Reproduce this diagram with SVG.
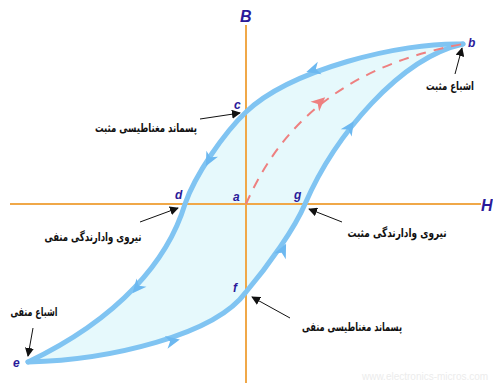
<svg xmlns="http://www.w3.org/2000/svg" width="493" height="383" viewBox="0 0 493 383">
<style>
.axis{stroke:#f0a848;stroke-width:2;fill:none}
.loop{stroke:#80c4f2;stroke-width:5;fill:none;stroke-linecap:round}
.fill{fill:#e6f9fc;stroke:none}
.bah{fill:#6cb8f0}
.dash{stroke:#ee8080;stroke-width:2;fill:none;stroke-dasharray:10 8}
.rah{fill:#ee8080}
.lbl{font-family:"Liberation Sans",Arial,sans-serif;font-weight:bold;font-style:italic;font-size:12px;fill:#2a1a9a}
.ax{font-family:"Liberation Sans",Arial,sans-serif;font-weight:bold;font-style:italic;font-size:16px;fill:#2a1a9a}
.fa{font-family:"DejaVu Sans",sans-serif;font-size:12px;font-weight:bold;fill:#111;direction:rtl;text-anchor:middle}
.ann{stroke:#111;stroke-width:1;fill:none;marker-end:url(#ah)}
.wm{font-family:"Liberation Sans",Arial,sans-serif;font-size:10px;fill:#ececec}
</style>
<defs>
<marker id="ah" viewBox="0 0 10 10" refX="9" refY="5" markerWidth="9" markerHeight="9" markerUnits="userSpaceOnUse" orient="auto">
<path d="M0,0 L10,5 L0,10 z" fill="#111"/>
</marker>
<polygon id="bh" points="7,0 -7,-6.5 -3,0 -7,6.5"/>
</defs>
<g id="loop-fill">
<path class="fill" d="M463,44 C400,42 290,70 246,112 C224,133 195,175 185,204 C168,260 120,318 28,362 C110,360 215,335 246,292 C268,266 295,228 305,204 C335,135 400,58 463,44 Z"/>
</g>
<g id="axes">
<line class="axis" x1="246" y1="25" x2="246" y2="383"/>
<line class="axis" x1="10" y1="204" x2="481" y2="204"/>
<text class="ax" x="240" y="22">B</text>
<text class="ax" x="481" y="211">H</text>
</g>
<g id="connectors">
<path id="upper-branch" class="loop" d="M463,44 C400,42 290,70 246,112 C224,133 195,175 185,204 C168,260 120,318 28,362"/>
<path id="lower-branch" class="loop" d="M28,362 C110,360 215,335 246,292 C268,266 295,228 305,204 C335,135 400,58 463,44"/>
<path id="initial-curve" class="dash" d="M246,204 C270,150 320,70 463,44"/>
<use href="#bh" class="bah" transform="translate(313,70) rotate(163)"/>
<use href="#bh" class="bah" transform="translate(209,160) rotate(117)"/>
<use href="#bh" class="bah" transform="translate(137,288) rotate(130)"/>
<use href="#bh" class="bah" transform="translate(173,341) rotate(-12)"/>
<use href="#bh" class="bah" transform="translate(283,250) rotate(-64)"/>
<use href="#bh" class="bah" transform="translate(350,127) rotate(-57)"/>
<use href="#bh" class="rah" transform="translate(320,102) rotate(-42)"/>
<line class="ann" x1="200" y1="119" x2="240" y2="113"/>
<line class="ann" x1="455" y1="74" x2="462" y2="48"/>
<line class="ann" x1="140" y1="222" x2="178" y2="208"/>
<line class="ann" x1="33" y1="328" x2="28" y2="356"/>
<line class="ann" x1="342" y1="222" x2="309" y2="209"/>
<line class="ann" x1="290" y1="318" x2="252" y2="297"/>
</g>
<g id="node-a"><text class="lbl" x="233" y="201">a</text></g>
<g id="node-b"><text class="lbl" x="468" y="47">b</text></g>
<g id="node-c"><text class="lbl" x="234" y="109">c</text></g>
<g id="node-d"><text class="lbl" x="175" y="199">d</text></g>
<g id="node-e"><text class="lbl" x="13" y="367">e</text></g>
<g id="node-f"><text class="lbl" x="233" y="292">f</text></g>
<g id="node-g"><text class="lbl" x="294" y="199">g</text></g>
<g id="labels">
<text class="fa" x="146" y="132" textLength="102" lengthAdjust="spacingAndGlyphs">پسماند مغناطیسی مثبت</text>
<text class="fa" x="450" y="90" textLength="48" lengthAdjust="spacingAndGlyphs">اشباع مثبت</text>
<text class="fa" x="93" y="241" textLength="97" lengthAdjust="spacingAndGlyphs">نیروی وادارندگی منفی</text>
<text class="fa" x="34" y="316" textLength="47" lengthAdjust="spacingAndGlyphs">اشباع منفی</text>
<text class="fa" x="397" y="237" textLength="99" lengthAdjust="spacingAndGlyphs">نیروی وادارندگی مثبت</text>
<text class="fa" x="352" y="331" textLength="100" lengthAdjust="spacingAndGlyphs">پسماند مغناطیسی منفی</text>
<text class="wm" x="362" y="380">www.electronics-micros.com</text>
</g>
</svg>
